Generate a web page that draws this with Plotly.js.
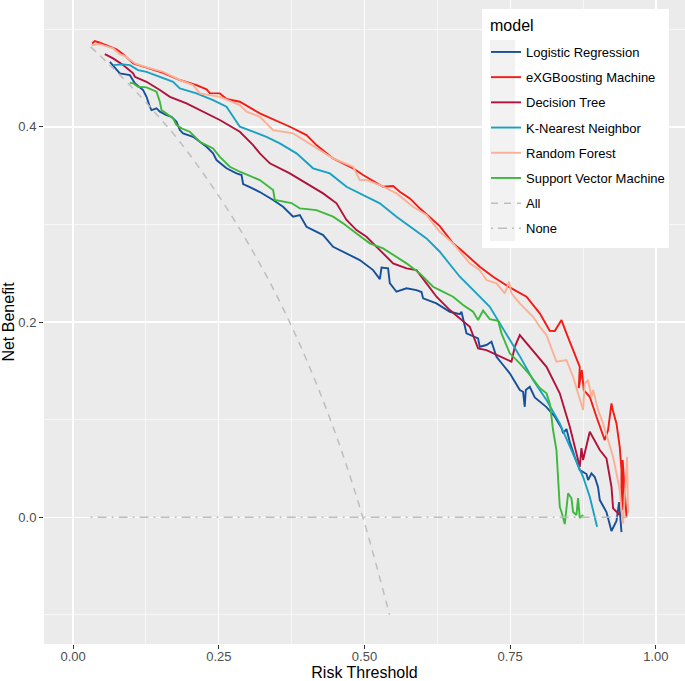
<!DOCTYPE html>
<html>
<head>
<meta charset="utf-8">
<script src="https://cdn.plot.ly/plotly-3.0.1.min.js"></script>
<style>
html,body{margin:0;padding:0;background:#fff;}
#chart{width:685px;height:681px;}
</style>
</head>
<body>
<div id="chart"></div>
<script>
// ---- data (risk threshold, net benefit) ----
const modelNames = ["Logistic Regression","eXGBoosting Machine","Decision Tree","K-Nearest Neighbor","Random Forest","Support Vector Machine"];
const refNames = ["All","None"];
const legendTitle = "model";

const lrX = [0.063,0.0745,0.0801,0.0973,0.1059,0.1201,0.1259,0.1316,0.1345,0.1431,0.1488,0.1603,0.1688,0.1774,0.1831,0.1887,0.2059,0.2174,0.2289,0.2402,0.246,0.2632,0.2804,0.289,0.2917,0.3032,0.3204,0.3432,0.3603,0.3775,0.389,0.4005,0.4118,0.429,0.4461,0.4691,0.4919,0.5148,0.5263,0.5292,0.5405,0.5434,0.5549,0.5721,0.5892,0.5978,0.6006,0.6235,0.6464,0.6636,0.6664,0.675,0.6949,0.6978,0.7093,0.7179,0.7265,0.7378,0.7493,0.7665,0.7721,0.775,0.7768,0.7836,0.7922,0.8123,0.8266,0.838,0.8409,0.8466,0.8523,0.8609,0.8694,0.8809,0.8837,0.8895,0.8952,0.9008,0.9038,0.9152,0.9238,0.9324,0.9369,0.941];
const lrY = [0.4667,0.4582,0.4548,0.4531,0.4446,0.4377,0.4308,0.4206,0.4172,0.4189,0.4155,0.4121,0.4103,0.4052,0.3967,0.3933,0.3898,0.3847,0.3796,0.3728,0.366,0.3575,0.3523,0.3506,0.3414,0.3383,0.3332,0.325,0.3181,0.3079,0.3096,0.2976,0.2942,0.2891,0.2771,0.2703,0.2635,0.2532,0.244,0.2558,0.255,0.2399,0.231,0.2345,0.2327,0.2307,0.2242,0.2191,0.2105,0.2081,0.2105,0.1884,0.1832,0.1746,0.1764,0.1797,0.1644,0.1559,0.1474,0.1303,0.1285,0.1131,0.1303,0.1336,0.1226,0.1128,0.1029,0.0913,0.0859,0.0903,0.077,0.0616,0.0483,0.0442,0.038,0.0449,0.0411,0.0308,0.0175,0.0052,-0.0142,-0.004,0.0155,-0.0153];

const xgbX = [0.0326,0.0372,0.0458,0.0573,0.0659,0.0745,0.0858,0.103,0.126,0.1544,0.183,0.2117,0.2289,0.2346,0.2517,0.2632,0.2861,0.3204,0.372,0.4005,0.4176,0.4461,0.4804,0.4976,0.5319,0.5491,0.5606,0.5778,0.5949,0.6177,0.6292,0.652,0.6692,0.6978,0.7207,0.7493,0.778,0.8008,0.8179,0.8265,0.838,0.8466,0.858,0.8694,0.8677,0.8729,0.8763,0.8866,0.898,0.9067,0.9123,0.918,0.9238,0.926,0.9324,0.938,0.941,0.941,0.9437,0.943,0.9496];
const xgbY = [0.4855,0.4879,0.4862,0.4838,0.4814,0.4794,0.4745,0.4651,0.4606,0.4554,0.448,0.4428,0.4384,0.4346,0.4343,0.4285,0.4257,0.4138,0.4001,0.3916,0.3813,0.3677,0.3575,0.3506,0.3386,0.3393,0.3335,0.3267,0.3165,0.3045,0.2983,0.2806,0.272,0.2566,0.2464,0.2355,0.2259,0.2089,0.191,0.1907,0.202,0.1884,0.1712,0.1541,0.1323,0.1508,0.1302,0.1234,0.1029,0.0893,0.079,0.0893,0.1166,0.1098,0.0961,0.0721,0.0483,0.0209,0.0073,0.0585,0.0004];

const dtX = [0.0544,0.0686,0.0858,0.103,0.1059,0.1259,0.1488,0.1661,0.1946,0.2175,0.2517,0.2861,0.3089,0.3204,0.3375,0.3718,0.4005,0.429,0.452,0.4691,0.4863,0.5034,0.5263,0.5491,0.5721,0.5892,0.6064,0.6235,0.6464,0.675,0.6807,0.6949,0.7093,0.7522,0.7579,0.7665,0.7835,0.8123,0.8351,0.8523,0.8694,0.8723,0.8751,0.8866,0.9038,0.9152,0.9238,0.9266,0.938];
const dtY = [0.4746,0.4702,0.4633,0.4548,0.4513,0.4462,0.4377,0.4308,0.4241,0.4172,0.407,0.395,0.3813,0.3728,0.3626,0.3523,0.3421,0.3318,0.3216,0.3045,0.2942,0.2874,0.2737,0.2601,0.255,0.2532,0.2396,0.2259,0.2122,0.1986,0.1951,0.173,0.1712,0.1593,0.1746,0.1866,0.1746,0.1541,0.1269,0.0926,0.0516,0.0708,0.0585,0.0875,0.0688,0.0603,0.0312,0.009,0.0022];

const knnX = [0.0686,0.0858,0.0973,0.1115,0.1259,0.1488,0.1716,0.1831,0.2117,0.2402,0.2632,0.2861,0.3089,0.3318,0.3547,0.3833,0.4118,0.4405,0.4691,0.4976,0.5263,0.5549,0.5834,0.6064,0.6292,0.6636,0.6922,0.715,0.7322,0.7493,0.7665,0.7893,0.8123,0.8351,0.8579,0.8751,0.8866,0.8991];
const knnY = [0.4633,0.464,0.4633,0.4582,0.4564,0.4513,0.4462,0.4394,0.4343,0.4274,0.4206,0.4001,0.395,0.3898,0.3831,0.3728,0.3575,0.3523,0.3386,0.3301,0.3216,0.3079,0.296,0.2857,0.272,0.2464,0.2293,0.2156,0.1986,0.1815,0.165,0.1405,0.12,0.0961,0.0654,0.0414,0.0209,-0.0098];

const rfX = [0.0316,0.0458,0.0686,0.0801,0.0887,0.1059,0.1259,0.1544,0.1831,0.2059,0.2174,0.2517,0.2861,0.2975,0.3204,0.3432,0.3775,0.4005,0.4176,0.4461,0.4804,0.4919,0.5034,0.5263,0.5549,0.5834,0.6064,0.6292,0.652,0.6692,0.6807,0.6978,0.7093,0.7265,0.7407,0.7481,0.7522,0.7665,0.7893,0.8008,0.8123,0.8294,0.8466,0.8579,0.8751,0.878,0.8837,0.8895,0.8923,0.9008,0.9094,0.918,0.9266,0.9324,0.938,0.941,0.9437,0.9484,0.9506,0.9523];
const rfY = [0.4838,0.4848,0.4804,0.4746,0.4725,0.4651,0.461,0.4564,0.448,0.4428,0.4343,0.4308,0.4223,0.4155,0.4103,0.3967,0.3933,0.3847,0.378,0.3677,0.3591,0.3455,0.3455,0.3404,0.3318,0.3181,0.3096,0.2925,0.2806,0.2686,0.2601,0.2532,0.243,0.2396,0.2293,0.2412,0.2293,0.2191,0.2054,0.1951,0.1866,0.1593,0.161,0.1439,0.1098,0.1371,0.1405,0.1234,0.1303,0.1098,0.0961,0.079,0.0619,0.0449,0.0278,0.0073,-0.0064,0.038,0.0619,0.0039];

const svmX = [0.0973,0.103,0.1115,0.1259,0.1431,0.1488,0.1517,0.1603,0.1716,0.1774,0.186,0.2002,0.2088,0.2174,0.2402,0.2517,0.2689,0.2861,0.3204,0.3432,0.3461,0.3747,0.389,0.4176,0.4461,0.4633,0.4863,0.5091,0.5319,0.5491,0.5721,0.5949,0.6177,0.6292,0.652,0.6692,0.6863,0.6949,0.7035,0.715,0.7293,0.7351,0.7493,0.7665,0.7835,0.8008,0.8123,0.818,0.8236,0.8294,0.8322,0.8351,0.838,0.8437,0.8494,0.8552,0.8579,0.8637,0.8665,0.8694,0.8751];
const svmY = [0.4452,0.4446,0.4411,0.4405,0.436,0.4257,0.4172,0.4138,0.4087,0.4018,0.3984,0.395,0.3898,0.3847,0.3779,0.3693,0.3591,0.354,0.3455,0.3352,0.325,0.3219,0.3165,0.3147,0.3079,0.3011,0.2908,0.2806,0.2755,0.2686,0.2601,0.2498,0.2361,0.2327,0.2259,0.2174,0.2105,0.202,0.2117,0.203,0.2012,0.1884,0.1679,0.1576,0.1461,0.1323,0.1269,0.1166,0.0893,0.0688,0.0329,0.0107,0.0055,-0.0071,0.0244,0.0193,0.0052,0.0022,0.0196,-0.0009,0.0022];

const allX = [0.03,0.06,0.10,0.14,0.18,0.22,0.26,0.30,0.34,0.38,0.42,0.46,0.50,0.543];
const allY = [0.482,0.465,0.441,0.415,0.387,0.355,0.320,0.281,0.238,0.189,0.133,0.069,-0.006,-0.100];

const noneX = [0.03,0.951];
const noneY = [0,0];

const xTicks = [0,0.25,0.5,0.75,1];
const xTickText = ["0.00","0.25","0.50","0.75","1.00"];
const yTicks = [0,0.2,0.4];
const yTickText = ["0.0","0.2","0.4"];

// ---- styling ----
const colors = ["#15519A","#F51A14","#B0123C","#18A1C4","#FBB095","#3DB83D"];
const seriesX = [lrX,xgbX,dtX,knnX,rfX,svmX];
const seriesY = [lrY,xgbY,dtY,knnY,rfY,svmY];

const traces = [];
for (let i = 0; i < modelNames.length; i++) {
  traces.push({
    type:"scatter", mode:"lines", name:modelNames[i],
    x:seriesX[i], y:seriesY[i], legendgroup:"g"+i,
    line:{color:colors[i], width:1.9}
  });
}
traces.push({type:"scatter",mode:"lines",name:refNames[0],x:allX,y:allY,legendgroup:"g6",
  line:{color:"#BEBEBE",width:1.5,dash:"7px,6px",shape:"spline"}});
traces.push({type:"scatter",mode:"lines",name:refNames[1],x:noneX,y:noneY,legendgroup:"g7",
  line:{color:"#BEBEBE",width:1.5,dash:"2px,5px,9px,5px"}});

const FONT = "Liberation Sans, Arial, sans-serif";
const W = 685, H = 681, L = 44, B = 37;
const pw = W - L, ph = H - B;
function px2paperX(p){return (p - L)/pw;}
function px2paperY(p){return 1 - p/ph;}

const layout = {
  width:W, height:H,
  margin:{l:L, r:0, t:0, b:B, pad:0},
  paper_bgcolor:"#FFFFFF",
  plot_bgcolor:"#EBEBEB",
  font:{family:FONT, color:"#000"},
  showlegend:true,
  xaxis:{
    range:[-0.05,1.05], autorange:false, zeroline:false, showline:false,
    tickvals:xTicks, ticktext:xTickText,
    ticks:"outside", ticklen:4, tickwidth:1, tickcolor:"#333333",
    ticklabelstandoff:-4,
    tickfont:{family:FONT,size:13,color:"#4D4D4D"},
    showgrid:true, gridcolor:"#FFFFFF", gridwidth:1.3,
    minor:{dtick:0.125, tick0:0, showgrid:true, gridcolor:"#FFFFFF", gridwidth:0.6},
    title:{text:"Risk Threshold", font:{family:FONT,size:16,color:"#000"}},
    automargin:false, fixedrange:true
  },
  yaxis:{
    range:[-0.13,0.53], autorange:false, zeroline:false, showline:false,
    tickvals:yTicks, ticktext:yTickText,
    ticks:"outside", ticklen:4, tickwidth:1, tickcolor:"#333333",
    tickfont:{family:FONT,size:13,color:"#4D4D4D"},
    showgrid:true, gridcolor:"#FFFFFF", gridwidth:1.3,
    minor:{dtick:0.1, tick0:0, showgrid:true, gridcolor:"#FFFFFF", gridwidth:0.6},
    title:{text:"Net Benefit", font:{family:FONT,size:16,color:"#000"}},
    automargin:false, fixedrange:true
  },
  legend:{
    x:px2paperX(486), y:px2paperY(37), xanchor:"left", yanchor:"top",
    bgcolor:"rgba(0,0,0,0)", borderwidth:0,
    font:{family:FONT,size:13,color:"#000"},
    tracegroupgap:5.3, traceorder:"grouped"
  },
  annotations:[
    {text:legendTitle, xref:"paper", yref:"paper", x:px2paperX(488), y:px2paperY(25),
     xanchor:"left", yanchor:"middle", showarrow:false,
     font:{family:FONT,size:16,color:"#000"}}
  ],
  shapes:[
    {type:"rect", xref:"paper", yref:"paper", layer:"above",
     x0:px2paperX(482), x1:px2paperX(669), y0:px2paperY(248), y1:px2paperY(9),
     fillcolor:"#FFFFFF", line:{width:0}},
    {type:"rect", xref:"paper", yref:"paper", layer:"above",
     x0:px2paperX(490), x1:px2paperX(515), y0:px2paperY(241), y1:px2paperY(40),
     fillcolor:"#F2F2F2", line:{width:0}}
  ]
};

Plotly.newPlot("chart", traces, layout, {displayModeBar:false, staticPlot:true});
</script>
</body>
</html>
